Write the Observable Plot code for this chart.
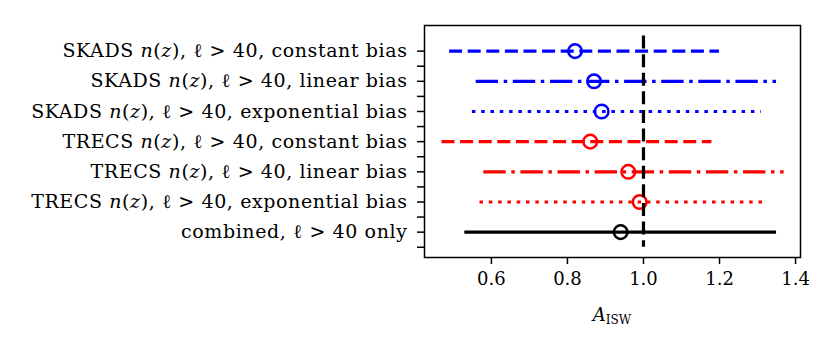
<!DOCTYPE html>
<html><head><meta charset="utf-8">
<script src="https://cdn.jsdelivr.net/npm/d3@7"></script>
<script src="https://cdn.jsdelivr.net/npm/@observablehq/plot@0.6"></script>
<style>body{margin:0;background:#fff}</style>
</head><body><div id="chart"></div>
<script>
// ---- data ----
const labels = [
  "SKADS n(z), ℓ > 40, constant bias",
  "SKADS n(z), ℓ > 40, linear bias",
  "SKADS n(z), ℓ > 40, exponential bias",
  "TRECS n(z), ℓ > 40, constant bias",
  "TRECS n(z), ℓ > 40, linear bias",
  "TRECS n(z), ℓ > 40, exponential bias",
  "combined, ℓ > 40 only"
];
const surveys = ["SKADS", "SKADS", "SKADS", "TRECS", "TRECS", "TRECS", "combined"];
const biases = ["constant", "linear", "exponential", "constant", "linear", "exponential", "combined"];
const centers = [0.82, 0.87, 0.89, 0.86, 0.96, 0.99, 0.94];
const lows    = [0.49, 0.56, 0.55, 0.47, 0.58, 0.57, 0.53];
const highs   = [1.20, 1.35, 1.31, 1.18, 1.37, 1.32, 1.35];
const xTicks = [0.6, 0.8, 1.0, 1.2, 1.4];
const reference = 1.0;

// ---- styles ----
const colorOf = {SKADS: "#0000ff", TRECS: "#ff0000", combined: "#000000"};
const dashOf = {constant: "13,5.6", linear: "22.4,5.6,3.5,5.6", exponential: "3.5,5.8", combined: null};

const rows = labels.map((label, i) => ({i, label, survey: surveys[i], bias: biases[i], center: centers[i], low: lows[i], high: highs[i]}));
const majorY = rows.map(r => r.i);
const minorY = rows.map(r => r.i + 0.5);

const W = 830, H = 349, mL = 424, mR = 30, mT = 25, mB = 92;
const marks = [];
rows.forEach(r => {
  const o = {y: "i", x1: "low", x2: "high", stroke: colorOf[r.survey], strokeWidth: 3.2};
  if (dashOf[r.bias]) o.strokeDasharray = dashOf[r.bias];
  marks.push(Plot.ruleY([r], o));
});
marks.push(Plot.dot(rows, {x: "center", y: "i", r: 6.8, stroke: d => colorOf[d.survey], strokeWidth: 2.5, fill: "none"}));
marks.push(Plot.ruleX([reference], {x: d => d, y1: -0.5, y2: 6.5, stroke: "black", strokeWidth: 3.2, strokeDasharray: "13,5.6"}));
marks.push(Plot.frame({stroke: "black", strokeWidth: 1.5}));
marks.push(Plot.axisY(majorY, {tickFormat: i => labels[i], tickSize: 7, tickPadding: 10, strokeWidth: 1.5, label: null, fill: "black", fontSize: 19}));
marks.push(Plot.axisY(minorY, {tickSize: 7, strokeWidth: 1.5, fill: "none", label: null}));
marks.push(Plot.axisX(xTicks, {tickFormat: d3.format(".1f"), tickSize: 7, tickPadding: 8, strokeWidth: 1.5, label: null, fill: "black"}));

const plot = Plot.plot({
  width: W, height: H,
  marginLeft: mL, marginRight: mR, marginTop: mT, marginBottom: mB,
  style: {fontFamily: "'DejaVu Serif', serif", fontSize: "18px", background: "white", color: "black"},
  x: {domain: [0.424, 1.413]},
  y: {domain: [6.84, -0.85]},
  color: {type: "identity"},
  marks
});

const svg = d3.select(plot);
// rich y tick labels
svg.selectAll('g[aria-label="y-axis tick label"] text').each(function() {
  const s = this.textContent;
  const t = d3.select(this).attr("letter-spacing", "0.6px").attr("font-size", 19);
  t.text(null);
  s.split(/(n\(z\))/).forEach(part => {
    if (part === "n(z)") {
      t.append("tspan").attr("font-style", "italic").text("n");
      t.append("tspan").text("(");
      t.append("tspan").attr("font-style", "italic").text("z");
      t.append("tspan").text(")");
    } else if (part) {
      t.append("tspan").text(part);
    }
  });
});
// x label A_ISW
const xl = svg.append("text")
  .attr("x", (mL + W - mR) / 2).attr("y", 321)
  .attr("text-anchor", "middle").attr("fill", "black")
  .attr("font-size", 18);
xl.append("tspan").attr("font-style", "italic").text("A");
xl.append("tspan").attr("font-size", 12).attr("dy", 2.5).text("ISW");

document.getElementById("chart").appendChild(plot);
</script>
</body></html>
